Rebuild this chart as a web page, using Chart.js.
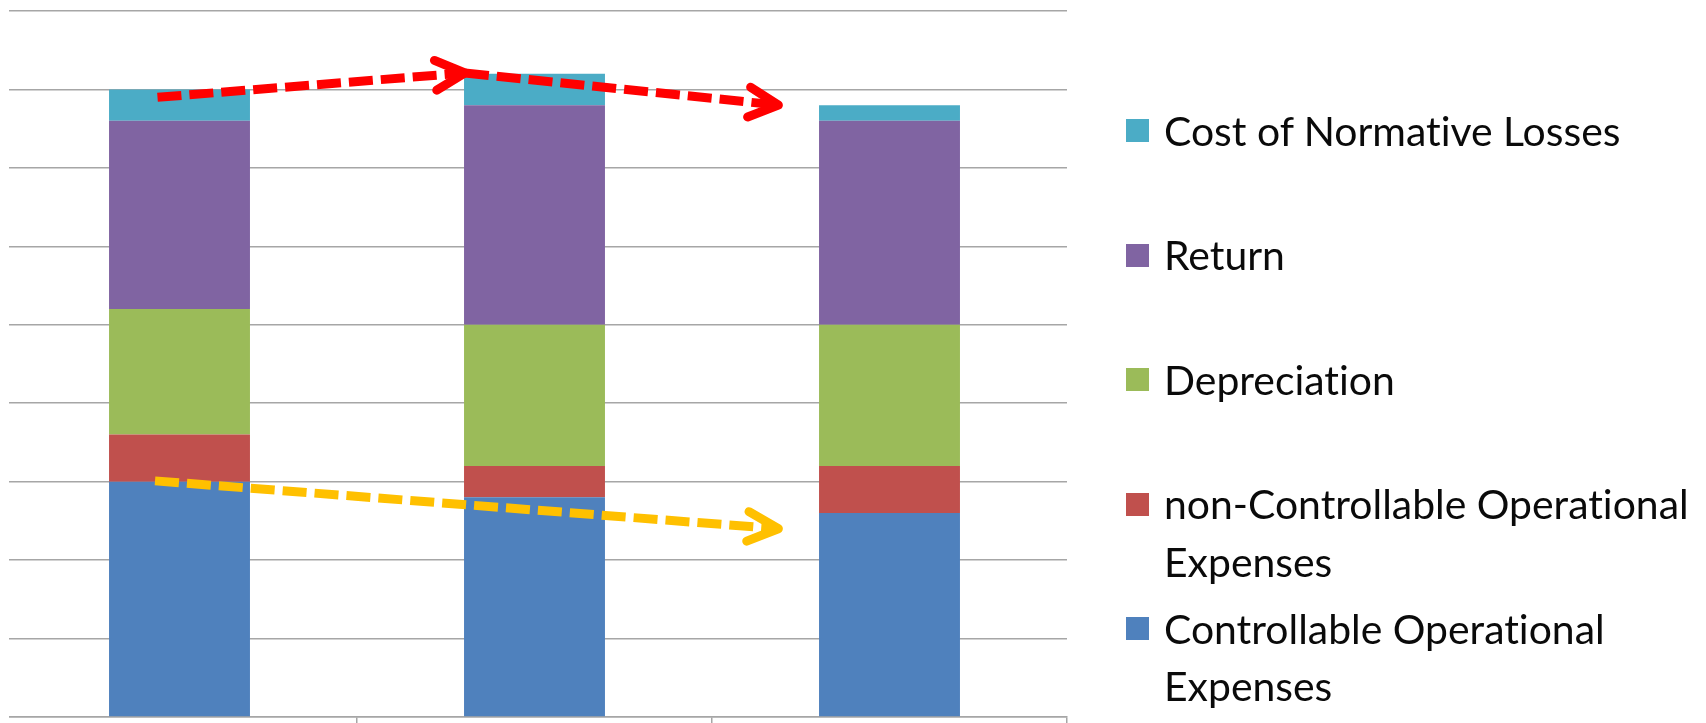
<!DOCTYPE html>
<html>
<head>
<meta charset="utf-8">
<script src="https://cdn.jsdelivr.net/npm/chart.js@4/dist/chart.umd.min.js"></script>
<style>
  html, body { margin: 0; padding: 0; background: #fff; overflow: hidden; }
  #wrap { position: relative; width: 1706px; height: 723px; }
  #chart { position: absolute; left: 0; top: 0; }
  #legend { position: absolute; left: 1126px; top: 0; width: 580px; height: 723px; font-family: Lato, "Open Sans", sans-serif; color: #0a0a0a; font-variant-ligatures: none; font-feature-settings: "liga" 0, "clig" 0; }
  .item { position: absolute; left: 0; display: flex; align-items: flex-start; }
  .box { width: 23px; height: 23px; flex: none; margin-right: 15px; }
  .txt { width: 545px; line-height: 57.5px; }
</style>
</head>
<body>
<div id="wrap">
  <canvas id="chart" width="1706" height="723"></canvas>
  <div id="legend"></div>
</div>
<script>
// ---- data ----
const categories = ["", "", ""];
const controllableOpex = [3.0, 2.8, 2.6];
const nonControllableOpex = [0.6, 0.4, 0.6];
const depreciation = [1.6, 1.8, 1.8];
const returnValues = [2.4, 2.8, 2.6];
const normativeLosses = [0.4, 0.4, 0.2];
const seriesNames = [
  "Controllable Operational Expenses",
  "non-Controllable Operational Expenses",
  "Depreciation",
  "Return",
  "Cost of Normative Losses"
];
const seriesColors = ["#4F81BD", "#C0504D", "#9BBB59", "#8064A2", "#4BACC6"];
const yMax = 9;
// trend arrows, in data units (x = category index, y = value)
const redArrowX = [-0.062, 0.804, 1.687];
const redArrowY = [7.90, 8.21, 7.80];
const yellowArrowX = [-0.069, 1.687];
const yellowArrowY = [3.01, 2.40];

const seriesValues = [controllableOpex, nonControllableOpex, depreciation, returnValues, normativeLosses];

const gridColor = "#A6A6A6";

const arrowPlugin = {
  id: "arrows",
  beforeDatasetsDraw(chart) {
    // the reference's gridlines start a few px right of the plot edge
    const ctx = chart.ctx, a = chart.chartArea;
    ctx.save();
    ctx.fillStyle = "#fff";
    ctx.fillRect(0, a.top - 3, a.left + 7, a.bottom - a.top + 20);
    ctx.restore();
  },
  afterDatasetsDraw(chart) {
    const ctx = chart.ctx, xs = chart.scales.x, ys = chart.scales.y;
    function arrow(x0, y0, x1, y1, color, armLen, armAng) {
      const p0 = [xs.getPixelForValue(x0), ys.getPixelForValue(y0)];
      const p1 = [xs.getPixelForValue(x1), ys.getPixelForValue(y1)];
      ctx.save();
      ctx.strokeStyle = color;
      ctx.lineWidth = 9;
      ctx.lineCap = "butt";
      ctx.setLineDash([24, 8]);
      ctx.beginPath();
      ctx.moveTo(p0[0], p0[1]);
      ctx.lineTo(p1[0], p1[1]);
      ctx.stroke();
      ctx.setLineDash([]);
      ctx.lineCap = "round";
      ctx.lineJoin = "round";
      const ang = Math.atan2(p1[1] - p0[1], p1[0] - p0[0]);
      ctx.beginPath();
      ctx.moveTo(p1[0] - armLen * Math.cos(ang - armAng), p1[1] - armLen * Math.sin(ang - armAng));
      ctx.lineTo(p1[0], p1[1]);
      ctx.lineTo(p1[0] - armLen * Math.cos(ang + armAng), p1[1] - armLen * Math.sin(ang + armAng));
      ctx.stroke();
      ctx.restore();
    }
    for (let i = 0; i < redArrowX.length - 1; i++) {
      arrow(redArrowX[i], redArrowY[i], redArrowX[i + 1], redArrowY[i + 1], "#FF0000", 33, 0.47);
    }
    arrow(yellowArrowX[0], yellowArrowY[0], yellowArrowX[1], yellowArrowY[1], "#FFC000", 34, 0.45);
  }
};

const datasets = seriesNames.map((name, i) => ({
  label: name,
  data: seriesValues[i],
  backgroundColor: seriesColors[i],
  borderWidth: 0,
  categoryPercentage: 1,
  barPercentage: 0.397
}));

new Chart(document.getElementById("chart"), {
  type: "bar",
  data: { labels: categories, datasets },
  options: {
    responsive: false,
    animation: false,
    events: [],
    layout: { padding: { left: 2, right: 639, top: 11, bottom: 0 } },
    plugins: { legend: { display: false }, tooltip: { enabled: false } },
    scales: {
      x: {
        stacked: true,
        ticks: { display: false },
        grid: { offset: true, drawOnChartArea: false, drawTicks: true, tickLength: 6, color: gridColor, lineWidth: 1.5 },
        border: { display: true, color: gridColor, width: 1.5 }
      },
      y: {
        stacked: true,
        min: 0, max: yMax,
        ticks: { display: false, stepSize: 1 },
        grid: { drawTicks: false, color: gridColor, lineWidth: 1.5 },
        border: { display: false }
      }
    }
  },
  plugins: [arrowPlugin]
});

// ---- legend (reverse order, like the reference) ----
const legend = document.getElementById("legend");
const measure = document.createElement("canvas").getContext("2d");
measure.font = "100px Lato";
const fontSize = 458 / measure.measureText("Cost of Normative Losses").width * 100;
legend.style.fontSize = fontSize.toFixed(1) + "px";
const order = seriesNames.map((_, i) => i).reverse();
order.forEach((idx, k) => {
  const item = document.createElement("div");
  item.className = "item";
  const centerY = 130.6 + 124.5 * k;
  item.style.top = (centerY - 28.75) + "px";
  const box = document.createElement("div");
  box.className = "box";
  box.style.background = seriesColors[idx];
  box.style.marginTop = (28.75 - 11.5) + "px";
  const txt = document.createElement("div");
  txt.className = "txt";
  txt.textContent = seriesNames[idx];
  item.appendChild(box);
  item.appendChild(txt);
  legend.appendChild(item);
});
</script>
</body>
</html>
